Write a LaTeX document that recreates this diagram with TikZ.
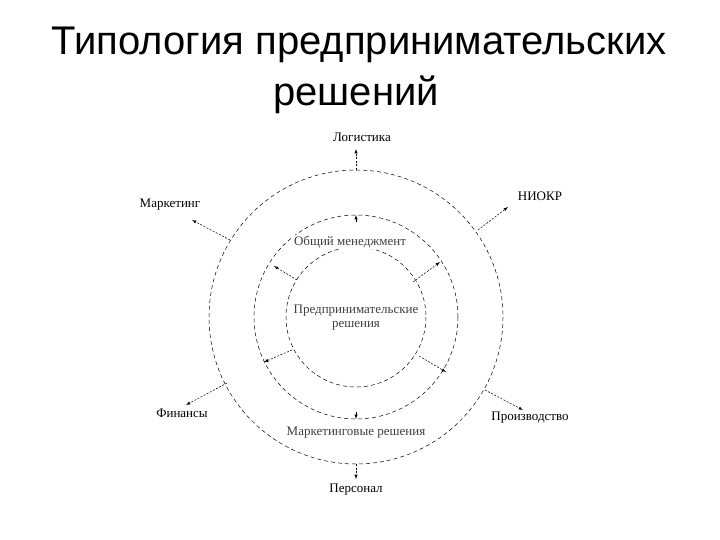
\documentclass[tikz,border=0pt]{standalone}
\usepackage{fontspec}
\setmainfont{Liberation Serif}
\newfontfamily\titlefont{Liberation Sans}
\begin{document}
\begin{tikzpicture}[x=1pt,y=-1pt,
  ring/.style={draw, dashed, dash pattern=on 4pt off 3pt, line width=0.5pt},
  arr/.style={-latex, dashed, dash pattern=on 2pt off 1.5pt, line width=0.5pt},
  lbl/.style={font=\fontsize{13}{14}\selectfont, inner sep=1pt},
  inl/.style={font=\fontsize{13}{14}\selectfont, inner sep=1pt, fill=white, text=gray!50!black}]
\useasboundingbox (0,0) rectangle (720,540);
\node[font=\titlefont\fontsize{40}{44}\selectfont] (t1) at (359,45) {Типология предпринимательских};
\node[font=\titlefont\fontsize{40}{44}\selectfont] (t2) at (356,95) {решений};
\coordinate (c) at (356,317);
\draw[ring] (c) circle[radius=147];
\draw[ring] (c) circle[radius=102];
\draw[ring] (c) circle[radius=70];
\node[lbl] (log) at (362,137) {Логистика};
\node[lbl] (mkt) at (170,205) {Маркетинг};
\node[lbl] (rnd) at (540,196) {НИОКР};
\node[lbl] (fin) at (182,413) {Финансы};
\node[lbl] (prod) at (530,418) {Производство};
\node[lbl] (pers) at (356,490) {Персонал};
\node[inl] (om) at (350,242) {Общий менеджмент};
\node[inl] (mr) at (356,433) {Маркетинговые решения};
\node[inl, align=center, fill=none] (pr) at (356,318) {Предпринимательские\\решения};
\coordinate (o1) at (356,170); \coordinate (o1e) at (356,149);
\coordinate (o2) at (230,240); \coordinate (o2e) at (192,220);
\coordinate (o3) at (478,230); \coordinate (o3e) at (508,207);
\coordinate (o4) at (227,383); \coordinate (o4e) at (186,405);
\coordinate (o5) at (485,390); \coordinate (o5e) at (523,410);
\coordinate (o6) at (356,464); \coordinate (o6e) at (356,479);
\draw[arr] (o1) -- (o1e); \draw[arr] (o2) -- (o2e); \draw[arr] (o3) -- (o3e);
\draw[arr] (o4) -- (o4e); \draw[arr] (o5) -- (o5e); \draw[arr] (o6) -- (o6e);
\coordinate (i1) at (356,222); \coordinate (i1e) at (356,215);
\coordinate (i2) at (297,280); \coordinate (i2e) at (274,266);
\coordinate (i3) at (413,282); \coordinate (i3e) at (440,262);
\coordinate (i4) at (292,350); \coordinate (i4e) at (264,362);
\coordinate (i5) at (419,356); \coordinate (i5e) at (446,372);
\coordinate (i6) at (356,412); \coordinate (i6e) at (356,419);
\draw[arr] (i2) -- (i2e); \draw[arr] (i3) -- (i3e);
\draw[arr] (i4) -- (i4e); \draw[arr] (i5) -- (i5e);
\draw[-latex, line width=0.5pt] (i1) -- (i1e);
\draw[-latex, line width=0.5pt] (i6) -- (i6e);
\end{tikzpicture}
\end{document}
